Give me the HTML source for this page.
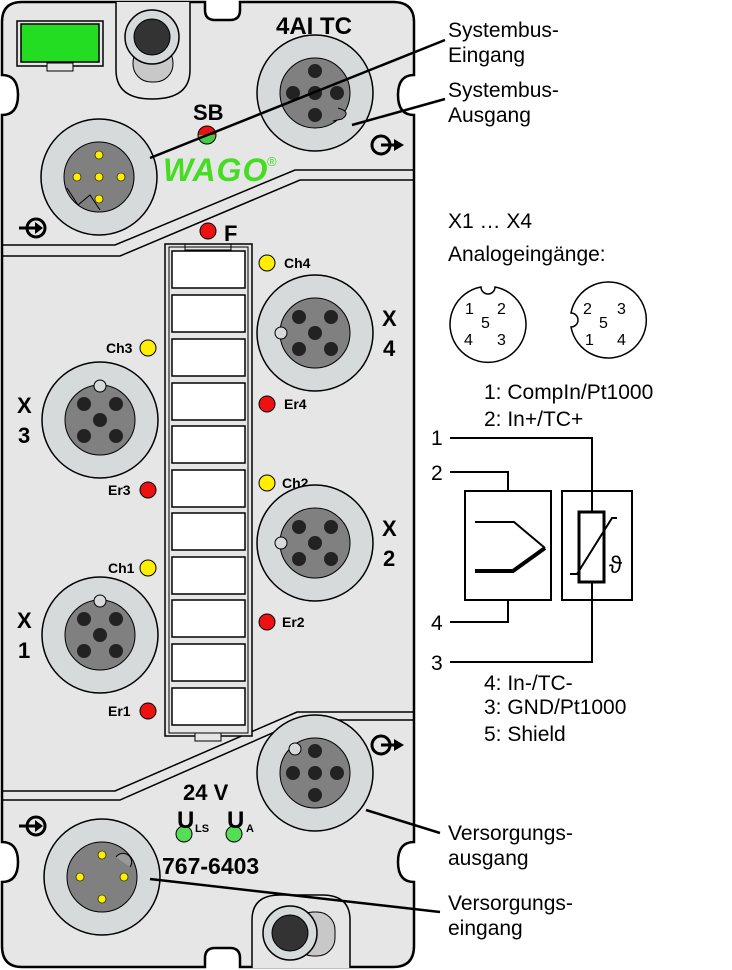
<!DOCTYPE html>
<html><head><meta charset="utf-8"><style>
html,body{margin:0;padding:0;background:#fff}
svg{display:block}
text{font-family:"Liberation Sans",sans-serif}
.lbl{font-size:21px;fill:#000}
.b{font-weight:bold}
</style></head><body>
<svg width="732" height="970" viewBox="0 0 732 970" xmlns="http://www.w3.org/2000/svg">
<!-- module body -->
<path d="M22,2 H205 V10 Q205,20 215,20 H230 Q240,20 240,10 V2 H393 Q414,2 414,22 V75 Q398,75 398,95 Q398,115 414,115 V842 Q398,842 398,862 Q398,882 414,882 V946 Q414,967 393,967 H240 V958 Q240,948 230,948 H215 Q205,948 205,958 V967 H22 Q2,967 2,946 V882 Q18,882 18,862 Q18,842 2,842 V115 Q18,115 18,95 Q18,75 2,75 V22 Q2,2 22,2 Z" fill="#e6e6e6" stroke="#000" stroke-width="2.5"/>
<!-- separators -->
<path d="M2,245 H115 L295,170 H414" fill="none" stroke="#000" stroke-width="1.5"/>
<path d="M2,256 H120 L300,180 H414" fill="none" stroke="#000" stroke-width="1.5"/>
<path d="M2,791 H115 L297,712 H414" fill="none" stroke="#000" stroke-width="1.5"/>
<path d="M2,800 H120 L302,720 H414" fill="none" stroke="#000" stroke-width="1.5"/>
<!-- green module rect -->
<rect x="17" y="21" width="86" height="45" fill="#e6e6e6" stroke="#000" stroke-width="1.5"/>
<rect x="21" y="24" width="78" height="38" fill="#22dd22" stroke="#000" stroke-width="1.5"/>
<rect x="47" y="63" width="26" height="8" fill="#e6e6e6" stroke="#000" stroke-width="1"/>
<!-- top screw -->
<path d="M116,2 V70 Q116,99 152,99 Q190,99 190,70 V2" fill="#e6e6e6" stroke="#000" stroke-width="1.5"/>
<rect x="133" y="45" width="40" height="37" rx="18" fill="#c8c8c8" stroke="#000" stroke-width="1"/>
<circle cx="152" cy="37" r="27" fill="#d6dadb" stroke="#000" stroke-width="1.5"/>
<circle cx="152" cy="37" r="18" fill="#333" stroke="#000"/>
<!-- bottom screw -->
<path d="M252,968 V920 Q252,895 280,895 H322 Q350,895 350,920 V968" fill="#e6e6e6" stroke="#000" stroke-width="1.5"/>
<rect x="295" y="912" width="40" height="44" rx="18" fill="#c8c8c8" stroke="#000" stroke-width="1"/>
<circle cx="290" cy="933" r="27" fill="#d6dadb" stroke="#000" stroke-width="1.5"/>
<circle cx="290" cy="933" r="18" fill="#333" stroke="#000"/>
<!-- texts on module -->
<text x="276" y="34" font-size="24" class="b">4AI TC</text>
<text x="193" y="120" font-size="22" class="b">SB</text>
<path d="M198,135 A9,9 0 0 1 216,135 Z" fill="#e11"/>
<path d="M198,135 A9,9 0 0 0 216,135 Z" fill="#4c4"/>
<circle cx="207" cy="135" r="9" fill="none" stroke="#000"/>
<text x="163" y="181" font-size="32" class="b" fill="#44dd22" font-style="italic" letter-spacing="1">WAGO</text>
<text x="267" y="166" font-size="13" fill="#44dd22">®</text>
<circle cx="208" cy="231" r="8" fill="#e11" stroke="#000"/>
<text x="224" y="241" font-size="22" class="b">F</text>
<!-- circled arrows -->
<g stroke="#000" stroke-width="3" fill="none">
 <circle cx="36" cy="228" r="9"/><path d="M19,228 H40"/>
 <circle cx="381" cy="145" r="9"/><path d="M381,145 H396"/>
 <circle cx="381" cy="745" r="9"/><path d="M381,745 H396"/>
 <circle cx="36" cy="826" r="9"/><path d="M19,826 H40"/>
</g>
<path d="M35,222 L43,228 L35,234 Z M35,820 L43,826 L35,832 Z M394,139 L404,145 L394,151 Z M394,739 L404,745 L394,751 Z" fill="#000"/>
<!-- label strip -->
<rect x="165" y="244" width="87" height="492" fill="#e6e6e6" stroke="#000" stroke-width="1.5"/>
<rect x="169" y="247" width="79" height="486" fill="none" stroke="#000" stroke-width="1"/>
<rect x="185" y="244" width="46" height="6" fill="none" stroke="#000" stroke-width="1"/>
<rect x="195" y="733" width="26" height="8" fill="#e6e6e6" stroke="#000" stroke-width="1"/>
<g fill="#fff" stroke="#000" stroke-width="1.5">
<rect x="172" y="251" width="73" height="37"/><rect x="172" y="295" width="73" height="37"/>
<rect x="172" y="339" width="73" height="37"/><rect x="172" y="383" width="73" height="37"/>
<rect x="172" y="426" width="73" height="37"/><rect x="172" y="470" width="73" height="37"/>
<rect x="172" y="513" width="73" height="37"/><rect x="172" y="557" width="73" height="37"/>
<rect x="172" y="600" width="73" height="37"/><rect x="172" y="644" width="73" height="37"/>
<rect x="172" y="688" width="73" height="37"/>
</g>
<!-- LEDs -->
<g stroke="#000" stroke-width="1">
<circle cx="267" cy="263" r="8" fill="#ffee00"/><circle cx="267" cy="404" r="8" fill="#e11"/>
<circle cx="267" cy="483" r="8" fill="#ffee00"/><circle cx="267" cy="622" r="8" fill="#e11"/>
<circle cx="148" cy="348" r="8" fill="#ffee00"/><circle cx="148" cy="490" r="8" fill="#e11"/>
<circle cx="148" cy="568" r="8" fill="#ffee00"/><circle cx="148" cy="711" r="8" fill="#e11"/>
<circle cx="184" cy="834" r="8" fill="#5d5"/><circle cx="234" cy="834" r="8" fill="#5d5"/>
</g>
<g font-size="14" class="b">
<text x="284" y="268">Ch4</text><text x="284" y="409">Er4</text>
<text x="282" y="488">Ch2</text><text x="282" y="627">Er2</text>
<text x="106" y="353">Ch3</text><text x="108" y="495">Er3</text>
<text x="108" y="573">Ch1</text><text x="108" y="716">Er1</text>
</g>
<g font-size="22" class="b">
<text x="382" y="326">X</text><text x="383" y="356">4</text>
<text x="382" y="536">X</text><text x="383" y="566">2</text>
<text x="17" y="413">X</text><text x="18" y="443">3</text>
<text x="17" y="628">X</text><text x="18" y="658">1</text>
<text x="183" y="800">24 V</text>
<text x="177" y="828" font-size="24">U</text><text x="195" y="832" font-size="11">LS</text>
<text x="227" y="828" font-size="24">U</text><text x="246" y="832" font-size="11">A</text>
<text x="162" y="874" font-size="23">767-6403</text>
</g>
<!-- connectors -->
<g>
 <circle cx="315" cy="93" r="58" fill="#d6dadb" stroke="#000" stroke-width="1.5"/>
 <circle cx="315" cy="93" r="35" fill="#808080" stroke="#000"/>
 <path d="M338,108 Q352,112 342,119 L333,121" fill="#808080" stroke="#000"/>
 <g fill="#222"><circle cx="315" cy="71" r="7"/><circle cx="293" cy="93" r="7"/><circle cx="315" cy="93" r="7"/><circle cx="337" cy="93" r="7"/><circle cx="315" cy="115" r="7"/></g>
</g>
<g>
 <circle cx="99" cy="177" r="58" fill="#d6dadb" stroke="#000" stroke-width="1.5"/>
 <circle cx="99" cy="177" r="35" fill="#808080" stroke="#000"/>
 <path d="M67,188 L78,205 L90,195 L100,210" fill="none" stroke="#000"/>
 <g fill="#ffee00" stroke="#000" stroke-width=".6"><circle cx="99" cy="155" r="4"/><circle cx="77" cy="177" r="4"/><circle cx="99" cy="177" r="4"/><circle cx="121" cy="177" r="4"/><circle cx="99" cy="199" r="4"/></g>
</g>
<g id="c5">
 <circle cx="315" cy="333" r="58" fill="#d6dadb" stroke="#000" stroke-width="1.5"/>
 <circle cx="315" cy="333" r="35" fill="#808080" stroke="#000"/>
 <circle cx="281" cy="333" r="6" fill="#d6dadb" stroke="#000"/>
 <g fill="#222"><circle cx="299" cy="317" r="7"/><circle cx="331" cy="317" r="7"/><circle cx="315" cy="333" r="7"/><circle cx="299" cy="349" r="7"/><circle cx="331" cy="349" r="7"/></g>
</g>
<use href="#c5" transform="translate(0,210)"/>
<g>
 <circle cx="100" cy="420" r="58" fill="#d6dadb" stroke="#000" stroke-width="1.5"/>
 <circle cx="100" cy="420" r="35" fill="#808080" stroke="#000"/>
 <circle cx="100" cy="386" r="6" fill="#d6dadb" stroke="#000"/>
 <g fill="#222"><circle cx="84" cy="404" r="7"/><circle cx="116" cy="404" r="7"/><circle cx="100" cy="420" r="7"/><circle cx="84" cy="436" r="7"/><circle cx="116" cy="436" r="7"/></g>
</g>
<g>
 <circle cx="100" cy="635" r="58" fill="#d6dadb" stroke="#000" stroke-width="1.5"/>
 <circle cx="100" cy="635" r="35" fill="#808080" stroke="#000"/>
 <circle cx="100" cy="601" r="6" fill="#d6dadb" stroke="#000"/>
 <g fill="#222"><circle cx="84" cy="619" r="7"/><circle cx="116" cy="619" r="7"/><circle cx="100" cy="635" r="7"/><circle cx="84" cy="651" r="7"/><circle cx="116" cy="651" r="7"/></g>
</g>
<g>
 <circle cx="315" cy="773" r="58" fill="#d6dadb" stroke="#000" stroke-width="1.5"/>
 <circle cx="315" cy="773" r="35" fill="#808080" stroke="#000"/>
 <circle cx="295" cy="749" r="6" fill="#d6dadb" stroke="#000"/>
 <g fill="#222"><circle cx="315" cy="751" r="7"/><circle cx="293" cy="773" r="7"/><circle cx="315" cy="773" r="7"/><circle cx="337" cy="773" r="7"/><circle cx="315" cy="795" r="7"/></g>
</g>
<g>
 <circle cx="102" cy="877" r="58" fill="#d6dadb" stroke="#000" stroke-width="1.5"/>
 <circle cx="102" cy="877" r="35" fill="#808080" stroke="#000"/>
 <path d="M116,857 A8,8 0 0 1 130,867" fill="#999" stroke="#000"/>
 <g fill="#ffee00" stroke="#000" stroke-width=".6"><circle cx="102" cy="855" r="4"/><circle cx="80" cy="877" r="4"/><circle cx="124" cy="877" r="4"/><circle cx="102" cy="899" r="4"/></g>
</g>
<!-- leader lines -->
<g stroke="#000" stroke-width="2.5">
<line x1="150" y1="158" x2="445" y2="40"/>
<line x1="352" y1="125" x2="445" y2="99"/>
<line x1="366" y1="810" x2="440" y2="833"/>
<line x1="150" y1="879" x2="440" y2="912"/>
</g>
<g>
<text x="448" y="37" class="lbl">Systembus-</text>
<text x="448" y="62" class="lbl">Eingang</text>
<text x="448" y="97" class="lbl">Systembus-</text>
<text x="448" y="122" class="lbl">Ausgang</text>
<text x="448" y="228" class="lbl">X1 … X4</text>
<text x="448" y="261" class="lbl">Analogeingänge:</text>
<text x="448" y="840" class="lbl">Versorgungs-</text>
<text x="448" y="865" class="lbl">ausgang</text>
<text x="448" y="910" class="lbl">Versorgungs-</text>
<text x="448" y="935" class="lbl">eingang</text>
<text x="484" y="399" class="lbl">1: CompIn/Pt1000</text>
<text x="484" y="426" class="lbl">2: In+/TC+</text>
<text x="484" y="690" class="lbl">4: In-/TC-</text>
<text x="484" y="714" class="lbl">3: GND/Pt1000</text>
<text x="484" y="741" class="lbl">5: Shield</text>
<text x="431" y="445" class="lbl">1</text>
<text x="431" y="480" class="lbl">2</text>
<text x="431" y="630" class="lbl">4</text>
<text x="431" y="670" class="lbl">3</text>
</g>
<!-- pin diagrams -->
<path d="M481,287 A5,5 0 0 0 495,287 A38,38 0 1 1 481,287 Z" fill="#fff" stroke="#000" stroke-width="1.5"/>
<path d="M571,313 A5,5 0 0 1 571,327 A38,38 0 1 0 571,313 Z" fill="#fff" stroke="#000" stroke-width="1.5"/>
<g font-size="16">
<text x="465" y="314">1</text><text x="497" y="314">2</text><text x="481" y="328">5</text><text x="464" y="345">4</text><text x="497" y="345">3</text>
<text x="583" y="314">2</text><text x="617" y="314">3</text><text x="599" y="328">5</text><text x="585" y="345">1</text><text x="617" y="345">4</text>
</g>
<!-- schematic -->
<g fill="none" stroke="#000" stroke-width="2">
<path d="M450,438 H592 V512"/><path d="M592,582 V662 H450"/>
<path d="M450,472 H508 V491"/><path d="M508,600 V622 H450"/>
<rect x="465" y="491" width="86" height="109"/>
<rect x="562" y="491" width="70" height="109"/>
<rect x="579" y="512" width="25" height="70" stroke-width="3"/>
<path d="M475,522 H514 L545,548"/>
<path d="M475,571 H513 L545,548" stroke-width="4"/>
<path d="M570,574 H577 L612,518 H617"/>
</g>
<text x="609" y="573" font-size="24" font-family="Liberation Serif, serif">ϑ</text>
</svg>
</body></html>
